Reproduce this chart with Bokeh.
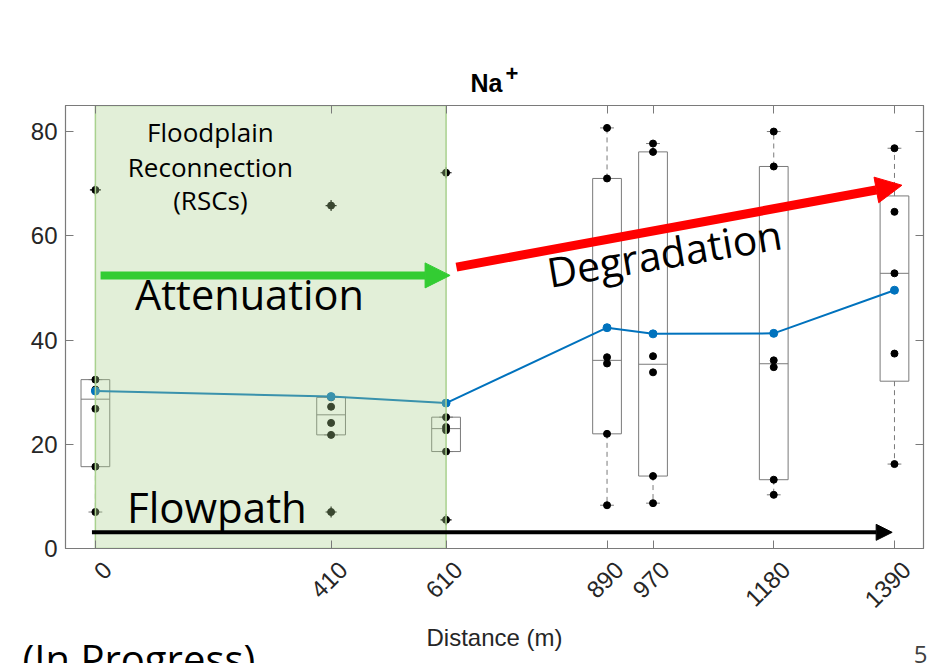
import math
from bokeh.plotting import figure
from bokeh.models import Range1d, FixedTicker, LinearAxis, Label, Arrow, NormalHead, Title
from bokeh.embed import file_html
from bokeh.resources import INLINE

# ---------------- data ----------------
distance = [0, 410, 610, 890, 970, 1180, 1390]
tick_labels = ["0", "410", "610", "890", "970", "1180", "1390"]
y_ticks = [0, 20, 40, 60, 80]
na_0 = [68.8, 32.4, 30.5, 26.8, 15.7, 7.0]
na_410 = [65.8, 29.0, 27.2, 24.1, 21.8, 7.0]
na_610 = [72.1, 25.2, 23.3, 22.7, 18.6, 5.5]
na_890 = [80.7, 71.0, 36.7, 35.5, 22.0, 8.3]
na_970 = [77.7, 76.1, 36.9, 33.8, 13.9, 8.7]
na_1180 = [80.0, 73.3, 36.1, 34.8, 13.2, 10.3]
na_1390 = [76.8, 64.6, 52.8, 37.4, 16.2]
samples = [na_0, na_410, na_610, na_890, na_970, na_1180, na_1390]


def mquant(v, p):
    s = sorted(v)
    n = len(s)
    pos = p * n + 0.5
    if pos <= 1:
        return s[0]
    if pos >= n:
        return s[-1]
    lo = int(math.floor(pos))
    fr = pos - lo
    return s[lo - 1] + fr * (s[lo] - s[lo - 1])


GRAY = "#7a7a7a"
TXT = "#262626"
BOXW = 25
CAPW = 12
LABEL_SHIFT = 21   # MATLAB-style placement of rotated tick labels (right of the tick)

p = figure(width=948, height=663, output_backend="svg", toolbar_location=None,
           x_range=Range1d(-52, 1440.5), y_range=Range1d(0, 85),
           min_border_left=65, min_border_right=25, min_border_top=105, min_border_bottom=115,
           background_fill_color="white", border_fill_color="white")
p.xgrid.visible = False
p.ygrid.visible = False
p.outline_line_color = GRAY
p.outline_line_width = 1.2

# box stats
bl, br, bb, bt = [], [], [], []
mx0, mx1, my = [], [], []
wx, wy0, wy1 = [], [], []
cx0, cx1, cy = [], [], []
ox, oy = [], []
px, py = [], []
means = []
for d, v in zip(distance, samples):
    q1 = mquant(v, 0.25)
    q3 = mquant(v, 0.75)
    med = mquant(v, 0.5)
    iqr = q3 - q1
    inl = [a for a in v if q1 - 1.5 * iqr <= a <= q3 + 1.5 * iqr]
    hi, lo = max(inl), min(inl)
    bl.append(d - BOXW); br.append(d + BOXW); bb.append(q1); bt.append(q3)
    mx0.append(d - BOXW); mx1.append(d + BOXW); my.append(med)
    wx += [d, d]; wy0 += [q3, q1]; wy1 += [hi, lo]
    cx0 += [d - CAPW, d - CAPW]; cx1 += [d + CAPW, d + CAPW]; cy += [hi, lo]
    for a in v:
        px.append(d); py.append(a)
        if a > hi or a < lo:
            ox.append(d); oy.append(a)
    means.append(sum(v) / len(v))

p.segment(x0=wx, y0=wy0, x1=wx, y1=wy1, line_color=GRAY, line_width=1, line_dash="5 4")
p.segment(x0=cx0, y0=cy, x1=cx1, y1=cy, line_color=GRAY, line_width=1)
p.quad(left=bl, right=br, bottom=bb, top=bt, fill_color=None, line_color=GRAY, line_width=1)
p.segment(x0=mx0, y0=my, x1=mx1, y1=my, line_color=GRAY, line_width=1)
p.scatter(x=ox, y=oy, marker="cross", size=11, line_color="black", line_width=1.2)
p.scatter(x=px, y=py, marker="circle", size=7, fill_color="black", line_color="black")
p.line(x=distance, y=means, line_color="#0072BD", line_width=2)
p.scatter(x=distance, y=means, marker="circle", size=8, fill_color="#0072BD", line_color="#0072BD")

# green floodplain overlay
p.quad(left=[0], right=[610], bottom=[0], top=[85], fill_color="#a9d18e", fill_alpha=0.34,
       line_color="#a9d18e", line_width=1.5)

# ---------------- axes ----------------
xax = p.xaxis[0]
xax.ticker = FixedTicker(ticks=distance)
xax.major_label_overrides = {d: "" for d in distance}
xax.major_label_text_font_size = "2px"
xax.major_label_standoff = 0

yax = p.yaxis[0]
yax.ticker = FixedTicker(ticks=y_ticks)
for ax in [xax, yax]:
    ax.axis_line_color = GRAY
    ax.major_tick_line_color = GRAY
    ax.major_tick_in = 8
    ax.major_tick_out = 0
    ax.minor_tick_line_color = None
yax.major_label_text_font = "Liberation Sans"
yax.major_label_text_font_size = "24px"
yax.major_label_text_color = TXT
yax.major_label_standoff = 8

shifted = [d + LABEL_SHIFT for d in distance]
lab_ax = LinearAxis(ticker=FixedTicker(ticks=shifted),
                    major_label_overrides={s: t for s, t in zip(shifted, tick_labels)},
                    major_label_orientation=math.pi / 4,
                    major_label_text_font="Liberation Sans", major_label_text_font_size="24px",
                    major_label_text_color=TXT, major_label_standoff=17,
                    axis_line_color=None, major_tick_line_color=None, minor_tick_line_color=None,
                    major_tick_in=0, major_tick_out=0,
                    axis_label="Distance (m)", axis_label_text_font="Liberation Sans",
                    axis_label_text_font_size="24px", axis_label_text_font_style="normal",
                    axis_label_text_color=TXT, axis_label_standoff=6)

top_ax = LinearAxis(ticker=FixedTicker(ticks=distance),
                    major_label_overrides={d: "" for d in distance},
                    major_label_standoff=0,
                    axis_line_color=GRAY, major_tick_line_color=GRAY, major_tick_in=8,
                    major_tick_out=0, minor_tick_line_color=None)
right_ax = LinearAxis(ticker=FixedTicker(ticks=y_ticks),
                      major_label_overrides={t: "" for t in y_ticks},
                      major_label_standoff=0,
                      axis_line_color=GRAY, major_tick_line_color=GRAY, major_tick_in=8,
                      major_tick_out=0, minor_tick_line_color=None)
p.add_layout(right_ax, "right")

# ---------------- title "Na" with superscript "+" ----------------
p.title.text = ""
t_na = Title(text="Na", align="left", offset=405, vertical_align="bottom", standoff=18,
             text_font="Liberation Sans", text_font_size="25px", text_font_style="bold",
             text_color="black")
t_plus = Title(text="+", align="left", offset=440, vertical_align="bottom", standoff=-46,
               text_font="Liberation Sans", text_font_size="22px", text_font_style="bold",
               text_color="black")
p.above = [top_ax, t_na, t_plus]

# ---------------- slide remnants below the chart ----------------
FONT = "Open Sans"
t_page = Title(text="5", align="right", offset=-4, vertical_align="middle",
               standoff=-35, text_font=FONT, text_font_size="24px",
               text_font_style="normal", text_color="#404040")
t_prog = Title(text="(In Progress)", align="left", offset=-43, vertical_align="middle",
               standoff=-50, text_font=FONT, text_font_size="40px",
               text_font_style="normal", text_color="black")
p.below = [xax, lab_ax, t_page, t_prog]

# ---------------- arrows ----------------
GREEN = "#33cc33"
p.add_layout(Arrow(end=NormalHead(size=25, fill_color=GREEN, line_color=GREEN),
                   x_start=9, y_start=52.4, x_end=617, y_end=52.4,
                   line_color=GREEN, line_width=8))
p.add_layout(Arrow(end=NormalHead(size=26, fill_color="#ff0000", line_color="#ff0000"),
                   x_start=628, y_start=54.0, x_end=1403, y_end=69.7,
                   line_color="#ff0000", line_width=9))
p.add_layout(Arrow(end=NormalHead(size=16, fill_color="black", line_color="black"),
                   x_start=-6, y_start=3.1, x_end=1386, y_end=3.1,
                   line_color="black", line_width=4))

# ---------------- annotation texts ----------------
for txt, yy in [("Floodplain", 79.9), ("Reconnection", 73.2), ("(RSCs)", 66.9)]:
    p.add_layout(Label(x=200, y=yy, text=txt, text_font=FONT, text_font_size="26px",
                       text_align="center", text_baseline="alphabetic", text_color="black"))
p.add_layout(Label(x=69, y=48.9, text="Attenuation", text_font=FONT, text_font_size="41.5px",
                   text_baseline="alphabetic", text_color="black"))
p.add_layout(Label(x=55, y=8.15, text="Flowpath", text_font=FONT, text_font_size="42px",
                   text_baseline="alphabetic", text_color="black"))
p.add_layout(Label(x=786, y=53.0, text="Degradation", text_font=FONT, text_font_size="41px",
                   text_baseline="alphabetic", angle=9.5, angle_units="deg", text_color="black"))

open("out.html", "w").write(file_html(p, INLINE))
